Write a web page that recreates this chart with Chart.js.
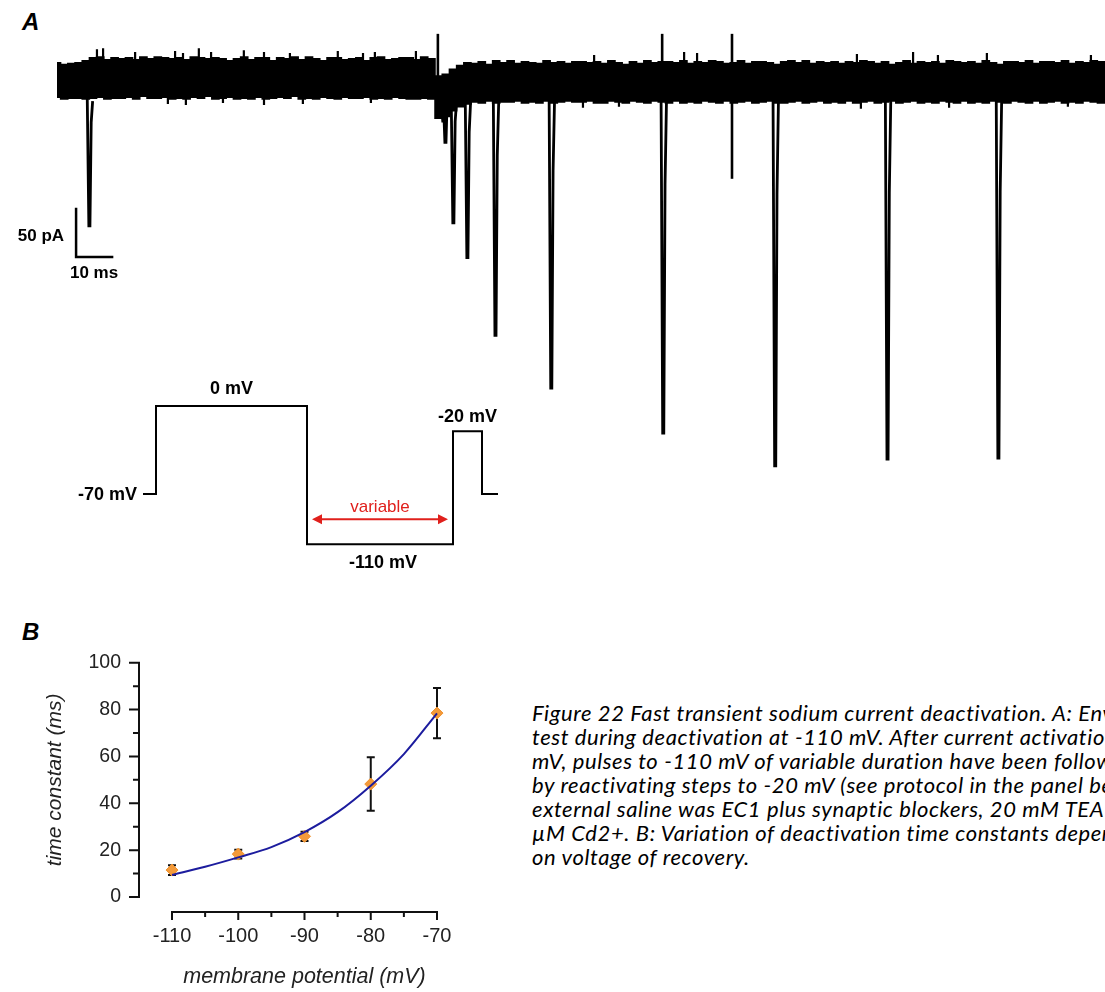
<!DOCTYPE html>
<html><head><meta charset="utf-8">
<script src="https://cdn.jsdelivr.net/npm/chart.js@4.4.0/dist/chart.umd.min.js"></script>
<style>
html,body{margin:0;padding:0;background:#fff;width:1105px;height:992px;overflow:hidden;position:relative;}
canvas{position:absolute;}
.plab{position:absolute;font-family:"Liberation Sans",Arial,sans-serif;font-weight:bold;font-style:italic;font-size:24px;line-height:30px;color:#000;}
#cap{position:absolute;left:532px;top:701px;width:573px;overflow:hidden;white-space:nowrap;font-family:Lato,sans-serif;font-style:italic;font-size:22px;letter-spacing:0.6px;line-height:24px;color:#000;}
</style></head><body>
<div class="plab" style="left:22px;top:7px">A</div>
<div class="plab" style="left:22px;top:617px">B</div>
<canvas id="cA" width="1105" height="500" style="left:0;top:0"></canvas>
<canvas id="cP" width="520" height="220" style="left:0;top:360px"></canvas>
<canvas id="cB" width="500" height="392" style="left:0;top:600px"></canvas>
<div id="cap">Figure 22 Fast transient sodium current deactivation. A: Envelope<br>test during deactivation at -110 mV. After current activation at 0<br>mV, pulses to -110 mV of variable duration have been followed<br>by reactivating steps to -20 mV (see protocol in the panel below). The<br>external saline was EC1 plus synaptic blockers, 20 mM TEA and 200<br>µM Cd2+. B: Variation of deactivation time constants depending<br>on voltage of recovery.</div>
<script>
// ---------- Panel A: current trace (time in ms, current in pA) ----------
const envStep = 2; // ms between envelope samples
const envUpper = [16,14,15,16,18,21,22,19,21,20, 21,19,22,20,22,21,20,21,19,22, 21,20,21,20,18,20,22,19,21,21, 18,21,20,22,19,22,20,18,21,21, 19,20,21,18,21,22,19,20,21,21, 19,22,20,
  2,4,9,13,16,15,17,14,18,16, 18,15,17,16,15,18,16,17,15,17, 17,16,17,15,18,16,14,17,15,18, 16,17,17,16,18,15,17,16,18,17, 15,16,18,15,17,17,16,14,17,18, 16,18,15,17,16,17,15,17,16,18, 17,15,17,14,16,18,15,17,16,17, 15,18,17,16,17,15,18,16,14,17, 17,16,18,15,17,17,16,18,15,17, 16,18,17,16];
const envLower = [-20,-22,-21,-21,-22,-21,-20,-22,-21,-21, -20,-22,-19,-21,-21,-20,-22,-21,-22,-20, -21,-19,-22,-21,-20,-22,-21,-22,-20,-22, -21,-20,-21,-19,-22,-21,-22,-20,-21,-22, -20,-21,-21,-20,-22,-21,-22,-20,-21,-22, -22,-21,-22,
  -42,-40,-34,-30,-27,-25,-26,-24,-26,-25, -25,-24,-26,-25,-26,-24,-26,-25,-24,-25, -25,-24,-26,-26,-24,-25,-26,-24,-25,-26, -24,-25,-26,-24,-26,-25,-26,-24,-25,-26, -24,-26,-25,-24,-26,-25,-24,-26,-26,-25, -24,-26,-25,-24,-26,-25,-26,-24,-26,-25, -24,-26,-25,-24,-26,-25,-24,-26,-25,-26, -24,-25,-26,-24,-26,-25,-26,-24,-25,-26, -24,-25,-26,-24,-26,-25,-24,-26,-25,-26, -24,-25,-26,-25];
// small noise excursions on the edges of the band
const noiseUpTimes = [11.1, 12.8, 21.7, 32.8, 35.0, 39.4, 42.8, 51.9, 57.5, 64.7, 78.0, 85.0, 88.3, 99.7, 149.2, 174.2, 177.8, 222.2, 237.8, 244.7, 258.3, 287.2];
const noiseUpTops = [30, 31, 27, 28, 26, 31, 27, 29, 27, 26, 28, 26, 27, 28, 24, 27, 26, 25, 27, 24, 26, 24];
const noiseDownTimes = [30.8, 35.8, 46.1, 57.5, 68.3, 87.2, 146.1, 156.1, 223.3, 247.8, 280.8];
const noiseDownBottoms = [-27, -28, -26, -28, -27, -26, -31, -30, -32, -31, -30];
// evoked currents (downward) and stimulus artifacts
const eventTimes = [8.9, 107.2, 107.8, 110.0, 113.9, 121.7, 137.2, 168.3, 199.4, 230.6, 261.4];
const eventPeaks = [-154, -45, -67, -151, -187, -268, -323, -370, -404, -397, -396];
const artifactTimes = [105.8, 168.1, 187.5];
const artifactTop = [46, 46, 46];
const artifactBottom = [0, 0, -105];
const scaleBarT = 10, scaleBarI = 50; // 10 ms, 50 pA
const scaleBarOrigin = {t: 5.3, i: -186.5};

// ---------- Protocol ----------
const protoTimes = [0, 6.5, 82, 155, 169.5, 177.5];
const protoLevels = [-70, 0, -110, -20, -70, -70];

// ---------- Panel B ----------
const tauV = [-110, -100, -90, -80, -70];
const tauMean = [11.5, 18.3, 25.9, 48.2, 78.5];
const tauErr = [2.1, 1.9, 2.0, 11.4, 10.7];
const fitV = [-110, -105, -100, -95, -90, -85, -80, -75, -70];
const fitTau = [9.4, 12.9, 16.9, 21.3, 27.7, 36.2, 47.5, 61.0, 78.4];
const xTickVals = [-110, -100, -90, -80, -70];
const xMinorVals = [-105, -95, -85, -75];
const yTickVals = [0, 20, 40, 60, 80, 100];
const yMinorVals = [10, 30, 50, 70, 90];

const AXF = '"Liberation Sans", Arial, sans-serif';

// ===== Panel A chart =====
const upperPts = envUpper.map((v, i) => ({x: i * envStep, y: v}));
const lowerPts = envLower.map((v, i) => ({x: i * envStep, y: v}));
const dsA = [
  {data: upperPts, borderColor: '#000', borderWidth: 1.5, pointRadius: 0, fill: false, stepped: 'middle'},
  {data: lowerPts, borderColor: '#000', borderWidth: 1.5, pointRadius: 0, fill: '-1', backgroundColor: '#000', stepped: 'middle'}
];
const upNoise = [], downNoise = [];
noiseUpTimes.forEach((t, k) => { upNoise.push({x: t, y: 10}, {x: t, y: noiseUpTops[k]}, {x: t, y: null}); });
noiseDownTimes.forEach((t, k) => { downNoise.push({x: t, y: -10}, {x: t, y: noiseDownBottoms[k]}, {x: t, y: null}); });
dsA.push({data: upNoise, borderColor: '#000', borderWidth: 2.2, pointRadius: 0, fill: false, spanGaps: false});
dsA.push({data: downNoise, borderColor: '#000', borderWidth: 2.2, pointRadius: 0, fill: false, spanGaps: false});
eventTimes.forEach((t, k) => {
  const p = eventPeaks[k];
  dsA.push({data: [{x: t - 0.5, y: -20}, {x: t - 0.05, y: p}, {x: t + 0.25, y: p}, {x: t + 0.6, y: p * 0.3}, {x: t + 1.0, y: -24}],
    borderColor: '#000', borderWidth: 2.8, pointRadius: 0, fill: false});
});
artifactTimes.forEach((t, k) => {
  dsA.push({data: [{x: t, y: artifactBottom[k]}, {x: t, y: artifactTop[k]}], borderColor: '#000', borderWidth: 2.6, pointRadius: 0, fill: false});
});
dsA.push({data: [{x: scaleBarOrigin.t, y: scaleBarOrigin.i + scaleBarI}, {x: scaleBarOrigin.t, y: scaleBarOrigin.i}, {x: scaleBarOrigin.t + scaleBarT, y: scaleBarOrigin.i}],
  borderColor: '#000', borderWidth: 2.5, pointRadius: 0, fill: false, borderCapStyle: 'square'});

const scaleBarLabels = {
  id: 'scaleBarLabels',
  afterDatasetsDraw(chart) {
    const {ctx, scales: {x, y}} = chart;
    const x0 = x.getPixelForValue(scaleBarOrigin.t), y0 = y.getPixelForValue(scaleBarOrigin.i);
    const y1 = y.getPixelForValue(scaleBarOrigin.i + scaleBarI), x1 = x.getPixelForValue(scaleBarOrigin.t + scaleBarT);
    ctx.save();
    ctx.fillStyle = '#000';
    ctx.font = 'bold 17px ' + AXF;
    ctx.textAlign = 'right'; ctx.textBaseline = 'middle';
    ctx.fillText(scaleBarI + ' pA', x0 - 12, (y0 + y1) / 2 + 3);
    ctx.textAlign = 'center';
    ctx.fillText(scaleBarT + ' ms', (x0 + x1) / 2, y0 + 16);
    ctx.restore();
  }
};

new Chart(document.getElementById('cA'), {
  type: 'line',
  data: {datasets: dsA},
  options: {
    responsive: false, animation: false, events: [],
    layout: {padding: 0},
    plugins: {legend: {display: false}, tooltip: {enabled: false}},
    elements: {line: {tension: 0}},
    scales: {
      x: {type: 'linear', display: false, min: -57 / 3.6, max: (1105 - 57) / 3.6},
      y: {type: 'linear', display: false, min: -(500 - 78) / 0.96, max: 78 / 0.96}
    }
  },
  plugins: [scaleBarLabels]
});

// ===== Protocol chart =====
const protoLabels = {
  id: 'protoLabels',
  afterDatasetsDraw(chart) {
    const {ctx, scales: {x, y}} = chart;
    const px = i => x.getPixelForValue(protoTimes[i]);
    const py = v => y.getPixelForValue(v);
    ctx.save();
    ctx.fillStyle = '#000';
    ctx.font = 'bold 18px ' + AXF;
    ctx.textBaseline = 'middle';
    ctx.textAlign = 'right';
    ctx.fillText(protoLevels[0] + ' mV', px(0) - 6, py(protoLevels[0]) + 1);
    ctx.textAlign = 'center';
    ctx.fillText(protoLevels[1] + ' mV', (px(1) + px(2)) / 2, py(protoLevels[1]) - 17);
    ctx.fillText(protoLevels[2] + ' mV', (px(2) + px(3)) / 2 + 3, py(protoLevels[2]) + 19);
    ctx.fillText(protoLevels[3] + ' mV', (px(3) + px(4)) / 2, py(protoLevels[3]) - 14);
    // variable arrow
    const ay = py(protoLevels[2]) - 25, ax0 = px(2) + 5, ax1 = px(3) - 5;
    ctx.strokeStyle = '#e0201c'; ctx.fillStyle = '#e0201c'; ctx.lineWidth = 2;
    ctx.beginPath(); ctx.moveTo(ax0 + 6, ay); ctx.lineTo(ax1 - 6, ay); ctx.stroke();
    ctx.beginPath(); ctx.moveTo(ax0, ay); ctx.lineTo(ax0 + 10, ay - 5); ctx.lineTo(ax0 + 10, ay + 5); ctx.closePath(); ctx.fill();
    ctx.beginPath(); ctx.moveTo(ax1, ay); ctx.lineTo(ax1 - 10, ay - 5); ctx.lineTo(ax1 - 10, ay + 5); ctx.closePath(); ctx.fill();
    ctx.font = '17px ' + AXF;
    ctx.fillText('variable', (px(2) + px(3)) / 2, ay - 12);
    ctx.restore();
  }
};
new Chart(document.getElementById('cP'), {
  type: 'line',
  data: {datasets: [{data: protoTimes.map((t, i) => ({x: t, y: protoLevels[i]})), stepped: 'before', borderColor: '#000', borderWidth: 2, pointRadius: 0, fill: false}]},
  options: {
    responsive: false, animation: false, events: [],
    layout: {padding: 0},
    plugins: {legend: {display: false}, tooltip: {enabled: false}},
    scales: {
      x: {type: 'linear', display: false, min: -143 / 2, max: (520 - 143) / 2},
      y: {type: 'linear', display: false, min: -(580 - 406) / 1.257, max: (406 - 360) / 1.257}
    }
  },
  plugins: [protoLabels]
});

// ===== Panel B chart =====
const errorBars = {
  id: 'errorBars',
  beforeDatasetsDraw(chart) {
    const {ctx, scales: {x, y}} = chart;
    ctx.save(); ctx.strokeStyle = '#111'; ctx.lineWidth = 2;
    tauV.forEach((v, i) => {
      const px = x.getPixelForValue(v);
      const yt = y.getPixelForValue(tauMean[i] + tauErr[i]);
      const yb = y.getPixelForValue(tauMean[i] - tauErr[i]);
      ctx.beginPath();
      ctx.moveTo(px, yt); ctx.lineTo(px, yb);
      ctx.moveTo(px - 4, yt); ctx.lineTo(px + 4, yt);
      ctx.moveTo(px - 4, yb); ctx.lineTo(px + 4, yb);
      ctx.stroke();
    });
    ctx.restore();
  }
};
const offsetAxes = {
  id: 'offsetAxes',
  afterDraw(chart) {
    const {ctx, chartArea, scales: {x, y}} = chart;
    const axX = chartArea.left - 33;      // detached y axis
    const axY = chartArea.bottom + 15;    // detached x axis
    ctx.save(); ctx.strokeStyle = '#111'; ctx.lineWidth = 2; ctx.lineCap = 'square';
    ctx.beginPath();
    ctx.moveTo(axX, y.getPixelForValue(yTickVals[0])); ctx.lineTo(axX, y.getPixelForValue(yTickVals[yTickVals.length - 1]));
    yTickVals.forEach(v => { const p = y.getPixelForValue(v); ctx.moveTo(axX, p); ctx.lineTo(axX - 9, p); });
    yMinorVals.forEach(v => { const p = y.getPixelForValue(v); ctx.moveTo(axX, p); ctx.lineTo(axX - 5, p); });
    ctx.moveTo(x.getPixelForValue(xTickVals[0]), axY); ctx.lineTo(x.getPixelForValue(xTickVals[xTickVals.length - 1]), axY);
    xTickVals.forEach(v => { const p = x.getPixelForValue(v); ctx.moveTo(p, axY); ctx.lineTo(p, axY + 7); });
    xMinorVals.forEach(v => { const p = x.getPixelForValue(v); ctx.moveTo(p, axY); ctx.lineTo(p, axY + 4); });
    ctx.stroke();
    ctx.restore();
  }
};
new Chart(document.getElementById('cB'), {
  type: 'scatter',
  data: {datasets: [
    {type: 'line', data: fitV.map((v, i) => ({x: v, y: fitTau[i]})), borderColor: '#1c1c9e', borderWidth: 2, pointRadius: 0, cubicInterpolationMode: 'monotone', fill: false, clip: false},
    {data: tauV.map((v, i) => ({x: v, y: tauMean[i]})), pointStyle: 'rectRot', pointRadius: 6, backgroundColor: '#f39a3a', borderColor: '#f0922e', borderWidth: 1, clip: false}
  ]},
  options: {
    responsive: false, animation: false, events: [],
    layout: {padding: {left: 39, top: 61, right: 63, bottom: 0}},
    plugins: {legend: {display: false}, tooltip: {enabled: false}},
    scales: {
      x: {type: 'linear', min: -110, max: -70,
        grid: {display: false, drawTicks: false}, border: {display: false},
        afterBuildTicks: s => { s.ticks = xTickVals.map(v => ({value: v})); },
        afterFit: s => { s.height = 95; },
        ticks: {font: {family: AXF, size: 20}, color: '#222', padding: 27, maxRotation: 0, autoSkip: false},
        title: {display: true, text: 'membrane potential (mV)', font: {family: AXF, size: 21.5, style: 'italic'}, color: '#222', padding: {top: 4, bottom: 2}}
      },
      y: {type: 'linear', min: 0, max: 100,
        grid: {display: false, drawTicks: false}, border: {display: false},
        afterBuildTicks: s => { s.ticks = yTickVals.map(v => ({value: v})); },
        afterFit: s => { s.width = 133; },
        ticks: {font: {family: AXF, size: 19.5}, color: '#222', padding: 51, autoSkip: false},
        title: {display: true, text: 'time constant (ms)', font: {family: AXF, size: 21, style: 'italic'}, color: '#222', padding: {top: 4, bottom: 4}}
      }
    }
  },
  plugins: [errorBars, offsetAxes]
});
</script>
</body></html>
